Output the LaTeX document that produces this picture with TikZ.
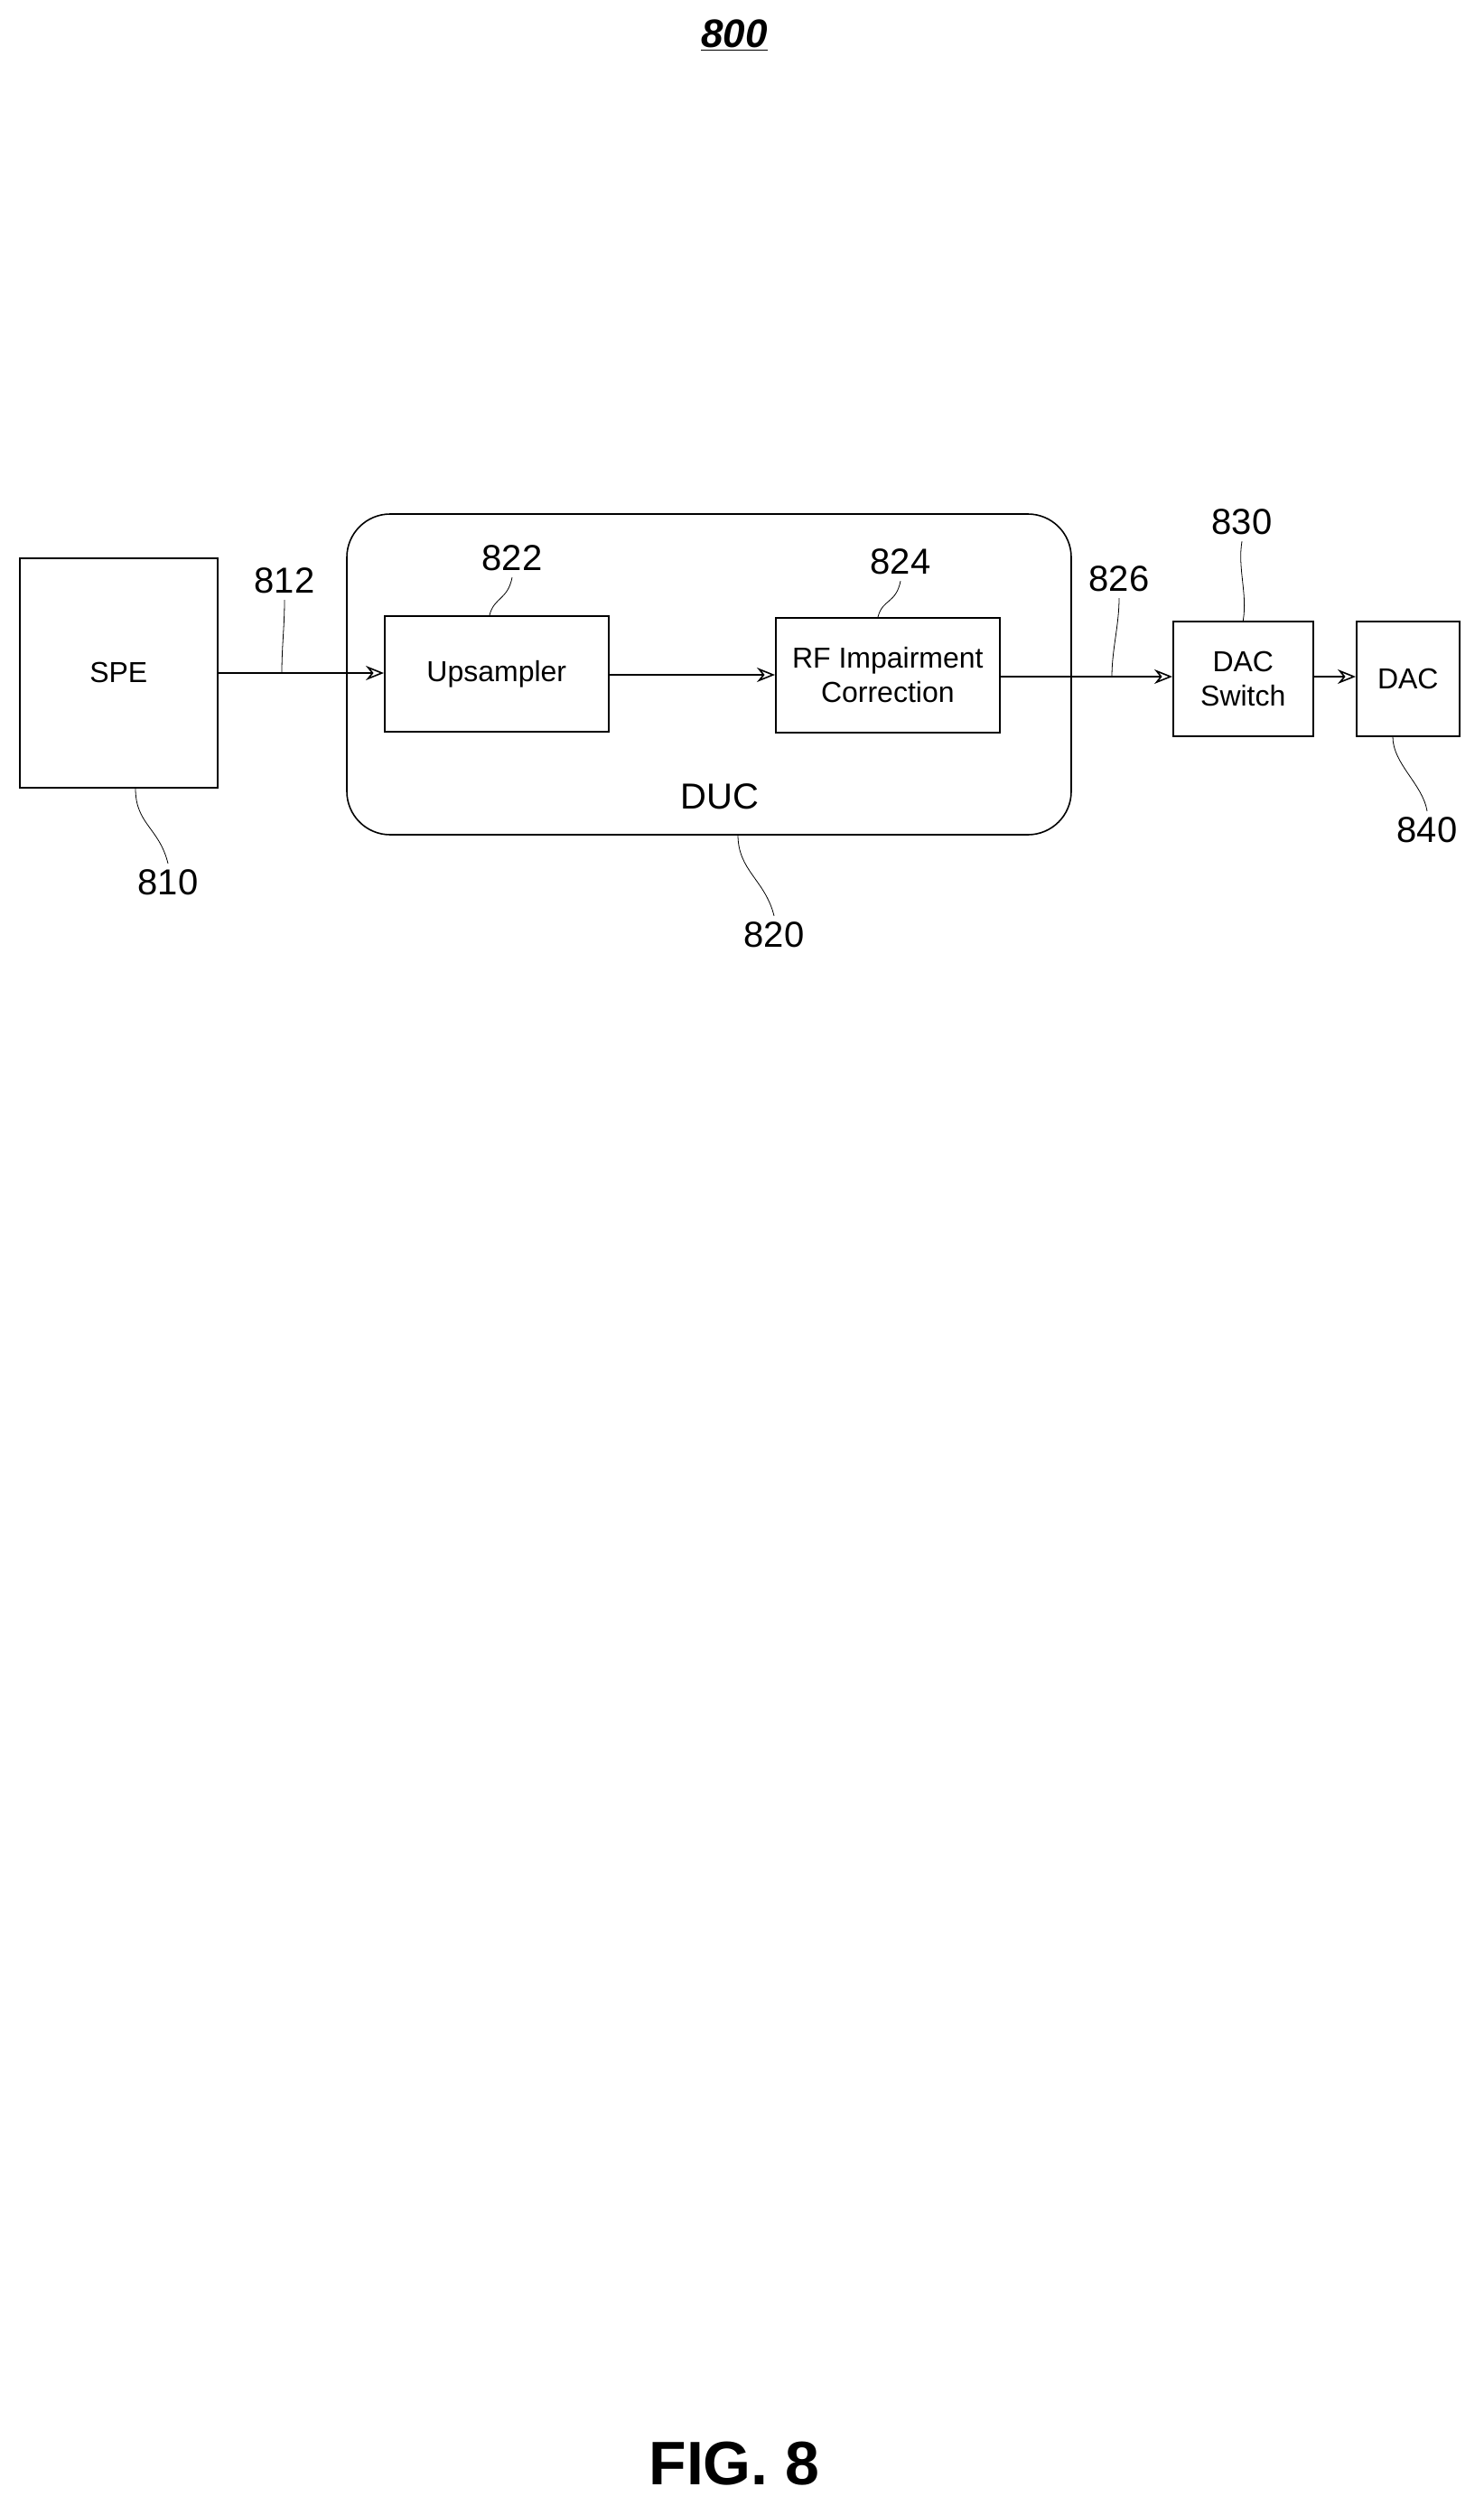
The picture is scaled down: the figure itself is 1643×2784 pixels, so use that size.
\documentclass[tikz,border=0pt]{standalone}
\usepackage{fontspec}
\setmainfont{Liberation Sans}
\usetikzlibrary{arrows.meta,positioning}
\tikzset{
  blk/.style={draw,thick,minimum width=#1},
  lbl/.style={font=\fontsize{20}{22}\selectfont},
  flow/.style={thick,-{Stealth[open,length=10pt,width=8pt]}},
  lead/.style={thin}
}
\begin{document}
\begin{tikzpicture}[x=0.5pt,y=-0.5pt]
  \useasboundingbox (0,0) rectangle (1643,2784);
  \node[font=\bfseries\itshape\fontsize{22}{24}\selectfont] (title) at (813,39) {\underline{800}};
  % blocks
  \node[draw,thick,minimum width=109.5pt,minimum height=127pt,anchor=north west,font=\fontsize{16}{18}\selectfont] (spe) at (21,617) {SPE};
  \draw[thick,rounded corners=24pt] (384,569) rectangle (1186,924);
  \coordinate (duc) at (795,924);
  \node[font=\fontsize{20}{22}\selectfont] (duclbl) at (797,882) {DUC};
  \node[draw,thick,minimum width=124pt,minimum height=64pt,anchor=north west,font=\fontsize{16}{18}\selectfont] (ups) at (425,681) {Upsampler};
  \node[draw,thick,minimum width=124pt,minimum height=63.5pt,anchor=north west,align=center,font=\fontsize{16}{19}\selectfont] (rf) at (858,683) {RF Impairment\\Correction};
  \node[draw,thick,minimum width=77.5pt,minimum height=63.5pt,anchor=north west,align=center,font=\fontsize{16}{19}\selectfont] (sw) at (1298,687) {DAC\\Switch};
  \node[draw,thick,minimum width=57pt,minimum height=63.5pt,anchor=north west,font=\fontsize{16}{18}\selectfont] (dac) at (1501,687) {DAC};
  % connectors
  \draw[flow] (spe.east |- 0,745) -- (ups.west |- 0,745);
  \draw[flow] (ups.east |- 0,747) -- (rf.west |- 0,747);
  \draw[flow] (rf.east |- 0,749) -- (sw.west |- 0,749);
  \draw[flow] (sw.east |- 0,749) -- (dac.west |- 0,749);
  % reference numerals
  \node[lbl] (n812) at (315,643) {812};
  \node[lbl] (n822) at (567,618) {822};
  \node[lbl] (n824) at (997,622) {824};
  \node[lbl] (n826) at (1239,641) {826};
  \node[lbl] (n830) at (1375,578) {830};
  \node[lbl] (n840) at (1580,919) {840};
  \node[lbl] (n810) at (186,977) {810};
  \node[lbl] (n820) at (857,1035) {820};
  \coordinate (a812) at (312,745);
  \coordinate (a826) at (1231,749);
  \draw[lead] (n812.south) .. controls +(0,30) and +(0,-30) .. (a812);
  \draw[lead] (n822.south) .. controls +(-5,25) and +(5,-20) .. (ups.north -| 542,0);
  \draw[lead] (n824.south) .. controls +(-5,25) and +(5,-20) .. (rf.north -| 972,0);
  \draw[lead] (n826.south) .. controls +(0,30) and +(0,-30) .. (a826);
  \draw[lead] (n830.south) .. controls +(-5,30) and +(5,-30) .. (sw.north);
  \draw[lead] (dac.south -| 1542,0) .. controls +(0,30) and +(-5,-30) .. (n840.north);
  \draw[lead] (spe.south -| 150,0) .. controls +(0,40) and +(-10,-40) .. (n810.north);
  \draw[lead] (duc -| 817,0) .. controls +(0,40) and +(-10,-40) .. (n820.north);
  \node[font=\bfseries\fontsize{34}{36}\selectfont] (fig) at (813,2727) {FIG. 8};
\end{tikzpicture}
\end{document}
